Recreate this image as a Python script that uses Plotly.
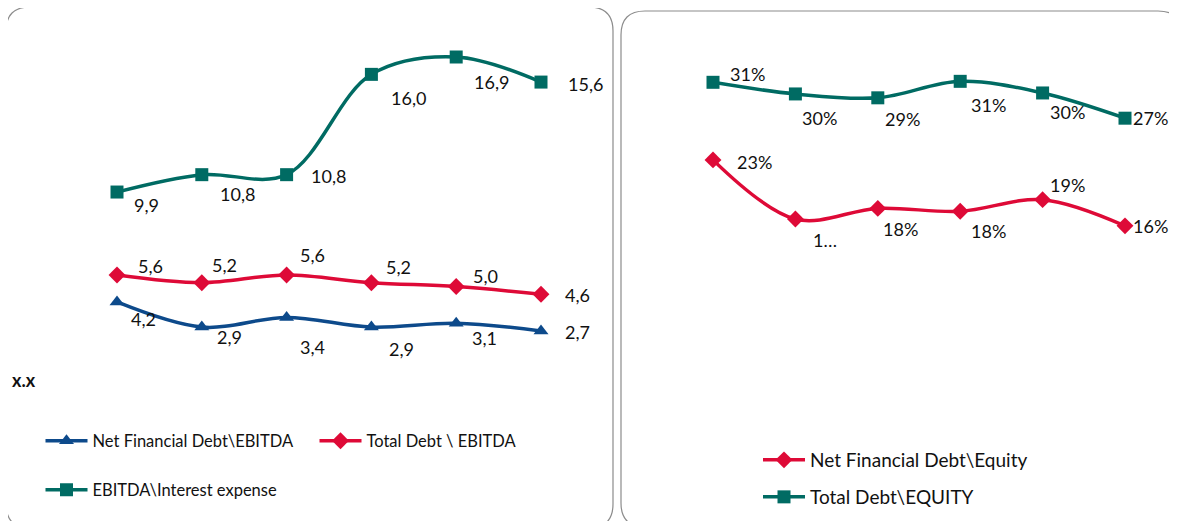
import plotly.graph_objects as go

# ---------------- data ----------------
periods = [1, 2, 3, 4, 5, 6]

net_fin_debt_ebitda = [4.2, 2.9, 3.4, 2.9, 3.1, 2.7]
total_debt_ebitda = [5.6, 5.2, 5.6, 5.2, 5.0, 4.6]
ebitda_interest = [9.9, 10.8, 10.8, 16.0, 16.9, 15.6]

total_debt_equity = [0.310, 0.298, 0.294, 0.311, 0.299, 0.273]
net_fin_debt_equity = [0.230, 0.169, 0.180, 0.177, 0.189, 0.162]
net_fin_debt_equity_labels = ["23%", "1…", "18%", "18%", "19%", "16%"]

names_left = ["Net Financial Debt\\EBITDA", "Total Debt \\ EBITDA", "EBITDA\\Interest expense"]
names_right = ["Net Financial Debt\\Equity", "Total Debt\\EQUITY"]
axis_note = "x.x"

# ---------------- style ----------------
OX, OY = 8, 8                 # page body margin
W, H = 1177 - 2 * OX, 529 - 2 * OY
TEAL = "#006B63"
RED = "#DE0A37"
BLUE = "#0D4A8B"
FONT = "Lato"
TXT = "#111111"
BORDER = "#8C8C8C"


def px(x):
    return (x - OX) / W


def py(y):
    return 1 - (y - OY) / H


fig = go.Figure()


def add_series(xs, ys, name, color, symbol, xa, ya, legend):
    fig.add_trace(go.Scatter(
        x=xs, y=ys, name=name, mode="lines+markers", line_shape="spline", cliponaxis=False,
        line=dict(color=color, width=3.5, smoothing=1),
        marker=dict(symbol=symbol, size=13, color=color),
        xaxis=xa, yaxis=ya, legend=legend))


def add_labels(xs, ys, texts, offsets, xa, ya):
    for xv, yv, t, (dx, dy) in zip(xs, ys, texts, offsets):
        fig.add_annotation(x=xv, y=yv, xref=xa, yref=ya, text=t, showarrow=False,
                           xanchor="center", yanchor="middle", xshift=dx, yshift=-dy,
                           font=dict(family=FONT, size=18, color=TXT))


def dec(v):
    return f"{v:.1f}".replace(".", ",")


# left panel
add_series(periods, net_fin_debt_ebitda, names_left[0], BLUE, "triangle-up", "x", "y", "legend")
add_series(periods, total_debt_ebitda, names_left[1], RED, "diamond", "x", "y", "legend")
add_series(periods, ebitda_interest, names_left[2], TEAL, "square", "x", "y", "legend2")

add_labels(periods, net_fin_debt_ebitda, [dec(v) for v in net_fin_debt_ebitda],
           [(26, 17), (28, 10), (26, 30), (30, 22), (28, 15), (36, 1)], "x", "y")
add_labels(periods, total_debt_ebitda, [dec(v) for v in total_debt_ebitda],
           [(33, -9), (23, -18), (26, -20), (27, -16), (29, -11), (36, 1)], "x", "y")
add_labels(periods, ebitda_interest, [dec(v) for v in ebitda_interest],
           [(29, 13), (36, 19), (42, 1), (37, 24), (35, 25), (44, 2)], "x", "y")

# right panel
add_series(periods, net_fin_debt_equity, names_right[0], RED, "diamond", "x2", "y2", "legend3")
add_series(periods, total_debt_equity, names_right[1], TEAL, "square", "x2", "y2", "legend4")

add_labels(periods, net_fin_debt_equity, net_fin_debt_equity_labels,
           [(41, 2), (30, 21), (23, 21), (28, 20), (25, -15), (25, 0)], "x2", "y2")
add_labels(periods, total_debt_equity, [f"{v:.0%}" for v in total_debt_equity],
           [(34, -8), (24, 24), (25, 21), (28, 24), (25, 19), (25, 0)], "x2", "y2")

axis_hidden = dict(showgrid=False, zeroline=False, showticklabels=False, showline=False, ticks="")

fig.update_layout(
    width=W, height=H,
    margin=dict(l=0, r=0, t=0, b=0),
    paper_bgcolor="white", plot_bgcolor="rgba(0,0,0,0)",
    font=dict(family=FONT, size=16, color=TXT),
    xaxis=dict(domain=[px(117), px(541)], range=[1, 6], **axis_hidden),
    yaxis=dict(domain=[py(383), py(40)], range=[0, (383 - 40) / 19.29], **axis_hidden),
    xaxis2=dict(domain=[px(713), px(1125)], range=[1, 6], anchor="y2", **axis_hidden),
    yaxis2=dict(domain=[py(383), py(40)], range=[0, (383 - 40) / 970], anchor="x2", **axis_hidden),
    legend=dict(orientation="h", x=px(40.5), y=py(441), xanchor="left", yanchor="middle",
                itemwidth=42, entrywidth=217, entrywidthmode="pixels", bgcolor="rgba(0,0,0,0)",
                font=dict(family=FONT, size=16.5, color=TXT)),
    legend2=dict(orientation="h", x=px(40.5), y=py(490), xanchor="left", yanchor="middle",
                 itemwidth=42, bgcolor="rgba(0,0,0,0)", font=dict(family=FONT, size=16.5, color=TXT)),
    legend3=dict(orientation="h", x=px(758), y=py(460), xanchor="left", yanchor="middle",
                 itemwidth=42, bgcolor="rgba(0,0,0,0)", font=dict(family=FONT, size=19, color=TXT)),
    legend4=dict(orientation="h", x=px(758), y=py(497), xanchor="left", yanchor="middle",
                 itemwidth=42, bgcolor="rgba(0,0,0,0)", font=dict(family=FONT, size=19, color=TXT)),
    showlegend=True,
)


def rounded_rect(x0, y0, x1, y1, r):
    return (f"M {px(x0 + r)},{py(y0)} L {px(x1 - r)},{py(y0)} "
            f"Q {px(x1)},{py(y0)} {px(x1)},{py(y0 + r)} "
            f"L {px(x1)},{py(y1 - r)} Q {px(x1)},{py(y1)} {px(x1 - r)},{py(y1)} "
            f"L {px(x0 + r)},{py(y1)} Q {px(x0)},{py(y1)} {px(x0)},{py(y1 - r)} "
            f"L {px(x0)},{py(y0 + r)} Q {px(x0)},{py(y0)} {px(x0 + r)},{py(y0)} Z")


fig.add_shape(type="path", xref="paper", yref="paper", path=rounded_rect(6, 7, 613, 528, 24),
              line=dict(color=BORDER, width=1.2), layer="below")
fig.add_shape(type="path", xref="paper", yref="paper", path=rounded_rect(621, 11, 1182, 527, 24),
              line=dict(color=BORDER, width=1.2), layer="below")

fig.add_annotation(x=px(10), y=py(380), xref="paper", yref="paper", text=f"<b>{axis_note}</b>",
                   showarrow=False, xanchor="left", yanchor="middle",
                   font=dict(family=FONT, size=18, color=TXT))

fig.write_html("out.html")
